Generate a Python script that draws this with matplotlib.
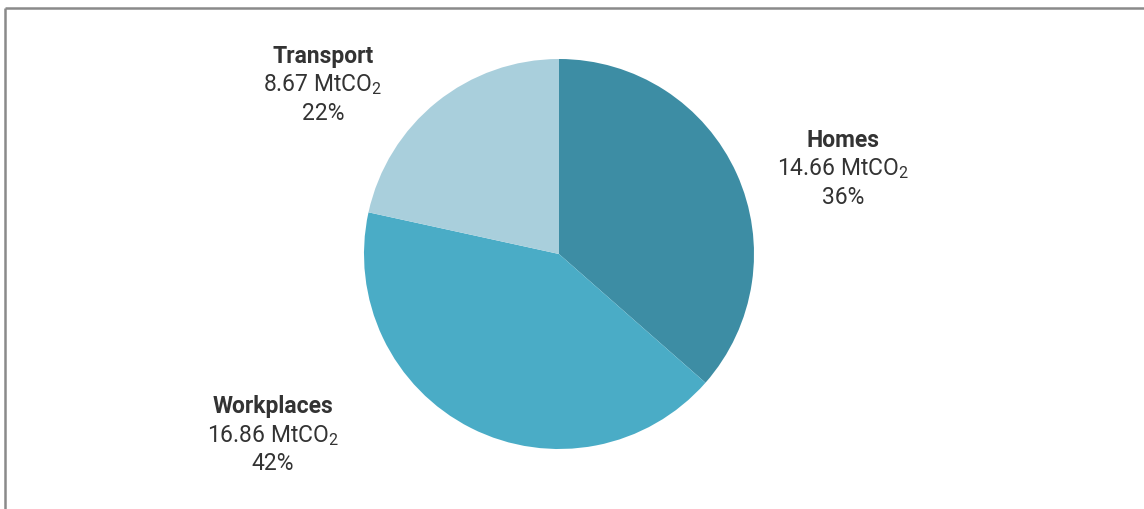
import matplotlib
matplotlib.use("Agg")
import matplotlib.pyplot as plt

# Emissions by sector (MtCO2)
sectors = ["Homes", "Workplaces", "Transport"]
emissions = [14.66, 16.86, 8.67]
shares = [36, 42, 22]
colors = ["#3d8da4", "#4aacc6", "#a9cfdc"]

plt.rcParams["font.family"] = ["Roboto", "DejaVu Sans"]
plt.rcParams["mathtext.fontset"] = "custom"
plt.rcParams["mathtext.rm"] = "Roboto"

W, H = 1144, 509
fig = plt.figure(figsize=(W / 100, H / 100), dpi=100)
ax = fig.add_axes([0, 0, 1, 1])

cx, cy, r = 559, H - 254, 195
ax.pie(emissions, colors=colors, startangle=90, counterclock=False,
       center=(cx, cy), radius=r, frame=True,
       wedgeprops=dict(linewidth=0))
ax.set_xlim(0, W)
ax.set_ylim(0, H)
ax.set_aspect("equal")
ax.axis("off")

# label anchor points (centre of the text block), in pixel coords
label_pos = {
    "Homes": (843, H - 140),
    "Workplaces": (273, H - 407),
    "Transport": (323, H - 56),
}
TEXT = "#333333"
FS = 16.5
for name, val, pct in zip(sectors, emissions, shares):
    x, y = label_pos[name]
    ax.text(x, y, name, ha="center", va="center", fontsize=FS,
            fontweight="bold", color=TEXT)
    ax.text(x, y - 29, f"{val:.2f} MtCO$_2$", ha="center", va="center",
            fontsize=FS, color=TEXT)
    ax.text(x, y - 57, f"{pct}%", ha="center", va="center",
            fontsize=FS, color=TEXT)

# frame lines along top and left edge
ax.plot([4.5, W], [H - 7.5, H - 7.5], color="#8a8a8a", lw=1.8,
        solid_capstyle="butt")
ax.plot([4.5, 4.5], [0, H - 7.5], color="#8a8a8a", lw=1.8,
        solid_capstyle="butt")

fig.savefig("out.png", dpi=100, facecolor="white")
